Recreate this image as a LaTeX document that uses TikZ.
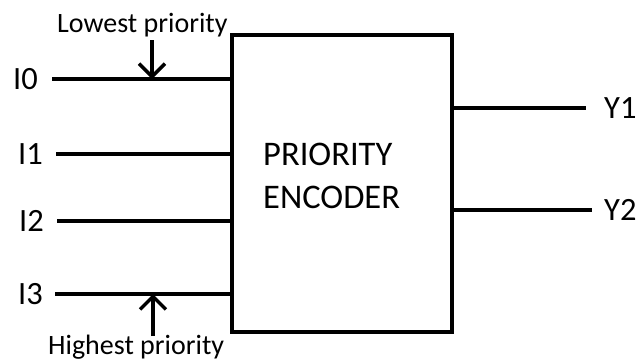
\documentclass[tikz,border=0pt]{standalone}
\usepackage{fontspec}
\setmainfont{Carlito}
\usetikzlibrary{arrows.meta}
\tikzset{
  wire/.style={line width=3.4pt},
  sig/.style={font=\fontsize{32.5}{38}\selectfont, inner sep=0pt},
  note/.style={font=\fontsize{28}{32}\selectfont, inner sep=0pt},
  prio/.style={line width=3.4pt, -{Straight Barb[length=13pt,width=26pt]}},
}
\begin{document}
\begin{tikzpicture}[x=1pt,y=-1pt]
  \useasboundingbox (0,0) rectangle (640,362);
  % encoder block
  \node[draw, line width=3.4pt, minimum width=220pt, minimum height=297pt, inner sep=0pt]
    (enc) at (342,183.5) {};
  \node[sig, align=left, anchor=west, font=\fontsize{34.5}{43}\selectfont] (title) at (263,176)
    {PRIORITY\\ENCODER};
  % inputs
  \node[sig, anchor=west] (i0) at (13,79) {I0};
  \node[sig, anchor=west] (i1) at (18,154) {I1};
  \node[sig, anchor=west] (i2) at (19,221) {I2};
  \node[sig, anchor=west] (i3) at (18,294) {I3};
  \coordinate (s0) at (52,79);
  \coordinate (s1) at (56,154);
  \coordinate (s2) at (57,221);
  \coordinate (s3) at (55,294);
  \draw[wire] (s0) -- (s0 -| enc.west);
  \draw[wire] (s1) -- (s1 -| enc.west);
  \draw[wire] (s2) -- (s2 -| enc.west);
  \draw[wire] (s3) -- (s3 -| enc.west);
  % outputs
  \node[sig, anchor=west] (y1) at (604,108) {Y1};
  \node[sig, anchor=west] (y2) at (604,210) {Y2};
  \coordinate (e1) at (586,108);
  \coordinate (e2) at (592,210);
  \draw[wire] (e1 -| enc.east) -- (e1);
  \draw[wire] (e2 -| enc.east) -- (e2);
  % priority markers
  \node[note, anchor=base west] (low) at (57,32) {Lowest priority};
  \node[note, anchor=base west] (high) at (48,354) {Highest priority};
  \coordinate (lowtop) at (152,40);
  \coordinate (hightop) at (153,336);
  \draw[prio] (lowtop) -- (lowtop |- s0);
  \draw[prio] (hightop) -- (hightop |- s3);
\end{tikzpicture}
\end{document}
